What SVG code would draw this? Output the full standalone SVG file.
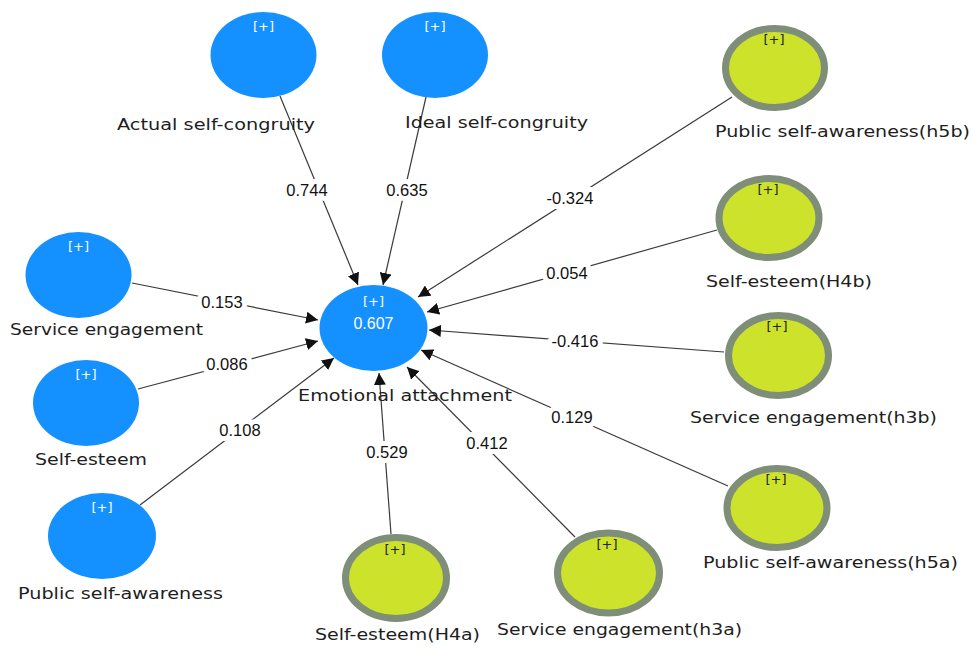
<svg xmlns="http://www.w3.org/2000/svg" width="973" height="648" viewBox="0 0 973 648">
<style>
.blue{fill:#1591ff;}
.green{fill:#cde22b;stroke:#7f8e78;stroke-width:7;}
.pw{font-family:"DejaVu Sans",sans-serif;font-size:13px;fill:#ffffff;text-anchor:middle;}
.pd{font-family:"DejaVu Sans",sans-serif;font-size:13px;fill:#222222;text-anchor:middle;}
.lbl{font-family:"DejaVu Sans",sans-serif;font-size:15px;fill:#1e1e1e;text-anchor:middle;}
.el{font-family:"Liberation Sans",Arial,sans-serif;font-size:16.5px;fill:#111111;text-anchor:middle;stroke:#ffffff;stroke-width:10px;paint-order:stroke;stroke-linejoin:round;}
.edge{stroke:#3a3a3a;stroke-width:1.2;fill:none;marker-end:url(#arr);}
</style>
<defs>
<marker id="arr" markerUnits="userSpaceOnUse" markerWidth="14" markerHeight="12" refX="12" refY="6" orient="auto">
<path d="M0,0 L12,6 L0,12 Z" fill="#111111"/>
</marker>
</defs>
<rect width="973" height="648" fill="#ffffff"/>
<g id="connectors">
<line class="edge" x1="280" y1="96" x2="358" y2="285"/>
<line class="edge" x1="426" y1="97" x2="383" y2="285"/>
<line class="edge" x1="732" y1="97" x2="418" y2="297"/>
<line class="edge" x1="717" y1="230" x2="427" y2="312"/>
<line class="edge" x1="724" y1="352" x2="429" y2="330"/>
<line class="edge" x1="728" y1="486" x2="421" y2="350"/>
<line class="edge" x1="575" y1="537" x2="407" y2="367"/>
<line class="edge" x1="391" y1="534" x2="379" y2="373"/>
<line class="edge" x1="140" y1="505" x2="334" y2="358"/>
<line class="edge" x1="138" y1="389" x2="318" y2="341"/>
<line class="edge" x1="132" y1="283" x2="318" y2="320"/>
<text class="el" x="307" y="196">0.744</text>
<text class="el" x="407" y="196">0.635</text>
<text class="el" x="570" y="204">-0.324</text>
<text class="el" x="567" y="279">0.054</text>
<text class="el" x="575" y="347">-0.416</text>
<text class="el" x="572" y="423">0.129</text>
<text class="el" x="487" y="449">0.412</text>
<text class="el" x="387" y="458">0.529</text>
<text class="el" x="240" y="436">0.108</text>
<text class="el" x="227" y="370">0.086</text>
<text class="el" x="222" y="308">0.153</text>
</g>
<g id="actual-self-congruity">
<ellipse class="blue" cx="263.5" cy="55" rx="53" ry="43"/>
<text class="pw" x="263.5" y="31">[+]</text>
<text class="lbl" x="216" y="130" textLength="198" lengthAdjust="spacingAndGlyphs">Actual self-congruity</text>
</g>
<g id="ideal-self-congruity">
<ellipse class="blue" cx="435" cy="55" rx="53" ry="43"/>
<text class="pw" x="435" y="31">[+]</text>
<text class="lbl" x="496.5" y="128" textLength="183" lengthAdjust="spacingAndGlyphs">Ideal self-congruity</text>
</g>
<g id="emotional-attachment">
<ellipse class="blue" cx="373.5" cy="328" rx="54" ry="43"/>
<text class="pw" x="373.5" y="306">[+]</text>
<text x="373.5" y="329" font-family="Liberation Sans, Arial, sans-serif" font-size="16" fill="#ffffff" text-anchor="middle">0.607</text>
<text class="lbl" x="405" y="401" textLength="214" lengthAdjust="spacingAndGlyphs">Emotional attachment</text>
</g>
<g id="service-engagement">
<ellipse class="blue" cx="78.5" cy="275" rx="53" ry="43"/>
<text class="pw" x="78.5" y="251">[+]</text>
<text class="lbl" x="106.5" y="335" textLength="193" lengthAdjust="spacingAndGlyphs">Service engagement</text>
</g>
<g id="self-esteem">
<ellipse class="blue" cx="86" cy="403" rx="53" ry="43"/>
<text class="pw" x="86" y="379">[+]</text>
<text class="lbl" x="91" y="465" textLength="112" lengthAdjust="spacingAndGlyphs">Self-esteem</text>
</g>
<g id="public-self-awareness">
<ellipse class="blue" cx="102" cy="536" rx="54" ry="43"/>
<text class="pw" x="102" y="512">[+]</text>
<text class="lbl" x="120.5" y="599" textLength="205" lengthAdjust="spacingAndGlyphs">Public self-awareness</text>
</g>
<g id="public-self-awareness-h5b">
<ellipse class="green" cx="775" cy="68" rx="49.5" ry="39.5"/>
<text class="pd" x="774" y="44">[+]</text>
<text class="lbl" x="842.5" y="137" textLength="255" lengthAdjust="spacingAndGlyphs">Public self-awareness(h5b)</text>
</g>
<g id="self-esteem-h4b">
<ellipse class="green" cx="769" cy="218" rx="50" ry="39.5"/>
<text class="pd" x="768" y="194">[+]</text>
<text class="lbl" x="789" y="287" textLength="166" lengthAdjust="spacingAndGlyphs">Self-esteem(H4b)</text>
</g>
<g id="service-engagement-h3b">
<ellipse class="green" cx="778.5" cy="355.5" rx="50" ry="40"/>
<text class="pd" x="777" y="331">[+]</text>
<text class="lbl" x="813.5" y="423" textLength="247" lengthAdjust="spacingAndGlyphs">Service engagement(h3b)</text>
</g>
<g id="public-self-awareness-h5a">
<ellipse class="green" cx="777" cy="508" rx="50" ry="39.5"/>
<text class="pd" x="776" y="484">[+]</text>
<text class="lbl" x="830.5" y="568" textLength="255" lengthAdjust="spacingAndGlyphs">Public self-awareness(h5a)</text>
</g>
<g id="service-engagement-h3a">
<ellipse class="green" cx="608.5" cy="573" rx="51" ry="40"/>
<text class="pd" x="607" y="549">[+]</text>
<text class="lbl" x="619.5" y="635" textLength="245" lengthAdjust="spacingAndGlyphs">Service engagement(h3a)</text>
</g>
<g id="self-esteem-h4a">
<ellipse class="green" cx="396" cy="578" rx="50.5" ry="40.5"/>
<text class="pd" x="395" y="554">[+]</text>
<text class="lbl" x="397.5" y="640" textLength="165" lengthAdjust="spacingAndGlyphs">Self-esteem(H4a)</text>
</g>
</svg>
